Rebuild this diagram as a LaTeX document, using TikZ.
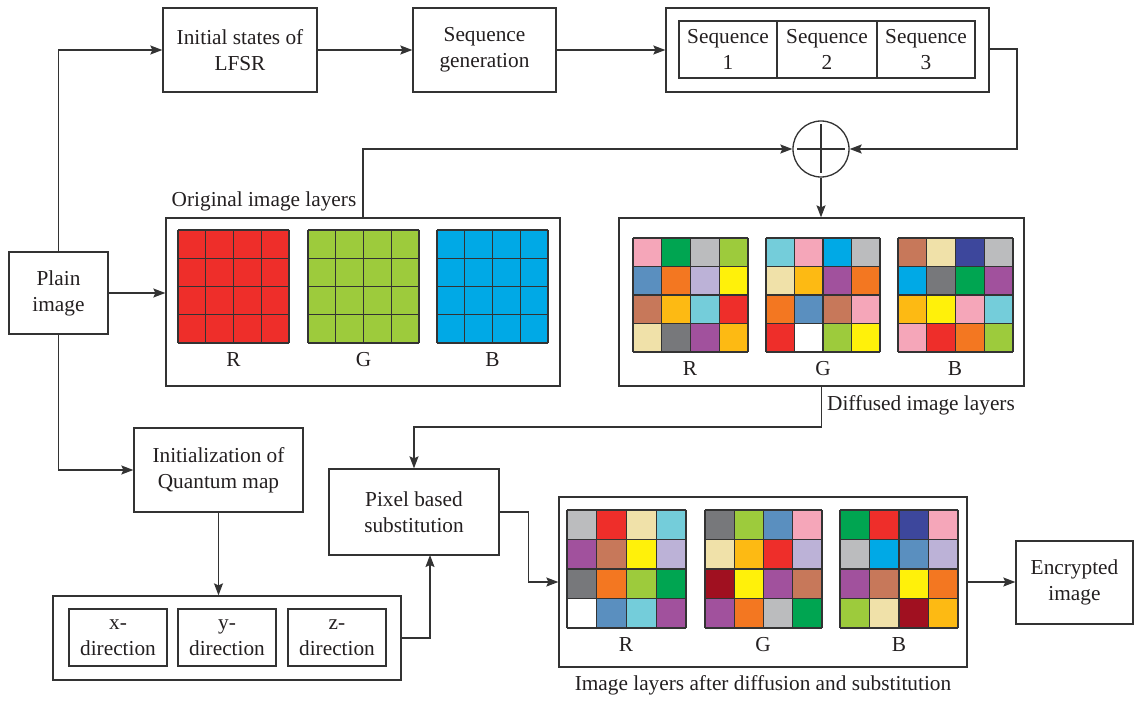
\documentclass[tikz,border=0pt]{standalone}
\usepackage{fontspec}
\setmainfont{Liberation Serif}
\newfontfamily\diagfont{Liberation Serif}
\usetikzlibrary{arrows.meta,calc}
\definecolor{ink}{HTML}{231F20}
\definecolor{ln}{HTML}{333333}
\definecolor{cpink}{HTML}{F5A6B9}
\definecolor{cdkgreen}{HTML}{00A551}
\definecolor{cgray}{HTML}{BBBCBE}
\definecolor{clgreen}{HTML}{9DCB3C}
\definecolor{csteel}{HTML}{5A8FBF}
\definecolor{corange}{HTML}{F37721}
\definecolor{clav}{HTML}{BCB2D7}
\definecolor{cyellow}{HTML}{FFF10A}
\definecolor{cbrown}{HTML}{C7785A}
\definecolor{cgold}{HTML}{FDBA13}
\definecolor{ccyan}{HTML}{74CDDA}
\definecolor{cred}{HTML}{EE2E2A}
\definecolor{cbeige}{HTML}{F0E1A9}
\definecolor{cdgray}{HTML}{77787B}
\definecolor{cpurple}{HTML}{A1519D}
\definecolor{cblue}{HTML}{00A9E6}
\definecolor{cnavy}{HTML}{3D479C}
\definecolor{cmaroon}{HTML}{A01020}
\newcommand\cgrid[5]{%
  \foreach \cc [count=\i from 0] in {#5} {%
    \pgfmathtruncatemacro\gcol{mod(\i,4)}%
    \pgfmathtruncatemacro\grow{int(\i/4)}%
    \fill[\cc] ({#1+\gcol*#3/4},{#2+\grow*#4/4}) rectangle ++({#3/4},{#4/4});
  }%
  \foreach \k in {0,...,4} {%
    \draw[gridline] ({#1+\k*#3/4},#2) -- ++(0,#4);
    \draw[gridline] (#1,{#2+\k*#4/4}) -- ++(#3,0);
  }%
}
\begin{document}
\begin{tikzpicture}[x=1pt,y=-1pt,
  every node/.style={font=\diagfont\fontsize{21.3}{26}\selectfont, text=ink},
  box/.style={draw=ln, line width=1.3pt, align=center, inner sep=0pt},
  gridline/.style={draw=ln, line width=1.2pt},
  conn/.style={draw=ln, line width=1.3pt},
  arr/.style={conn, -{Stealth[length=12pt,width=9pt,inset=2pt]}},
  lbl/.style={inner sep=0pt}]
\useasboundingbox (0,0) rectangle (1141,701);
% main boxes
\node[box, minimum width=99pt, minimum height=82pt] (plain) at (58.5,293) {Plain\\image};
\node[box, minimum width=154pt, minimum height=84pt] (lfsr) at (240,50) {Initial states of\\LFSR};
\node[box, minimum width=143pt, minimum height=84pt] (seqgen) at (484.5,50) {Sequence\\generation};
\node[box, minimum width=323pt, minimum height=84pt] (seqouter) at (827.5,50) {};
\node[box, minimum width=98pt, minimum height=57pt] (seq1) at (728,49.5) {Sequence\\1};
\node[box, minimum width=100pt, minimum height=57pt] (seq2) at (827,49.5) {Sequence\\2};
\node[box, minimum width=98pt, minimum height=57pt] (seq3) at (926,49.5) {Sequence\\3};
\node[draw=ln, line width=1.3pt, circle, minimum size=56pt, inner sep=0pt] (xor) at (821,149) {};
\draw[conn] (797,149) -- (845,149) (821,124) -- (821,173);
\node[box, minimum width=394pt, minimum height=168pt] (orig) at (363,302) {};
\node[lbl] (origlbl) at (264,201) {Original image layers};
\node[box, minimum width=405pt, minimum height=168pt] (diff) at (821.5,302) {};
\node[lbl] (difflbl) at (921,405) {Diffused image layers};
\node[box, minimum width=169pt, minimum height=84pt] (quantum) at (218.5,470) {Initialization of\\Quantum map};
\node[box, minimum width=170pt, minimum height=86pt] (pixel) at (414,512) {Pixel based\\substitution};
\node[box, minimum width=348pt, minimum height=84pt] (dirs) at (227,638) {};
\node[box, minimum width=98pt, minimum height=57pt] (dx) at (118,637.5) {x-\\direction};
\node[box, minimum width=98pt, minimum height=57pt] (dy) at (227,637.5) {y-\\direction};
\node[box, minimum width=98pt, minimum height=57pt] (dz) at (337,637.5) {z-\\direction};
\node[box, minimum width=408pt, minimum height=170pt] (subst) at (763,582) {};
\node[lbl] (substlbl) at (763,685) {Image layers after diffusion and substitution};
\node[box, minimum width=117pt, minimum height=83pt] (enc) at (1074.5,582.5) {Encrypted\\image};
% original grids
\cgrid{178}{230}{111}{113}{cred,cred,cred,cred,cred,cred,cred,cred,cred,cred,cred,cred,cred,cred,cred,cred}
\cgrid{308}{230}{111}{113}{clgreen,clgreen,clgreen,clgreen,clgreen,clgreen,clgreen,clgreen,clgreen,clgreen,clgreen,clgreen,clgreen,clgreen,clgreen,clgreen}
\cgrid{437}{230}{111}{113}{cblue,cblue,cblue,cblue,cblue,cblue,cblue,cblue,cblue,cblue,cblue,cblue,cblue,cblue,cblue,cblue}
\node[lbl] (oR) at (233.5,360) {R};
\node[lbl] (oG) at (363.5,360) {G};
\node[lbl] (oB) at (492.5,360) {B};
% diffused grids
\cgrid{633}{238}{115}{114}{cpink,cdkgreen,cgray,clgreen,csteel,corange,clav,cyellow,cbrown,cgold,ccyan,cred,cbeige,cdgray,cpurple,cgold}
\cgrid{766}{238}{114}{114}{ccyan,cpink,cblue,cgray,cbeige,cgold,cpurple,corange,corange,csteel,cbrown,cpink,cred,white,clgreen,cyellow}
\cgrid{898}{238}{115}{114}{cbrown,cbeige,cnavy,cgray,cblue,cdgray,cdkgreen,cpurple,cgold,cyellow,cpink,ccyan,cpink,cred,corange,clgreen}
\node[lbl] (dR) at (690,369) {R};
\node[lbl] (dG) at (823,369) {G};
\node[lbl] (dB) at (955,369) {B};
% substituted grids
\cgrid{567}{510}{119}{118}{cgray,cred,cbeige,ccyan,cpurple,cbrown,cyellow,clav,cdgray,corange,clgreen,cdkgreen,white,csteel,ccyan,cpurple}
\cgrid{705}{510}{117}{118}{cdgray,clgreen,csteel,cpink,cbeige,cgold,cred,clav,cmaroon,cyellow,cpurple,cbrown,cpurple,corange,cgray,cdkgreen}
\cgrid{840}{510}{118}{118}{cdkgreen,cred,cnavy,cpink,cgray,cblue,csteel,clav,cpurple,cbrown,cyellow,corange,clgreen,cbeige,cmaroon,cgold}
\node[lbl] (sR) at (626,645) {R};
\node[lbl] (sG) at (763,645) {G};
\node[lbl] (sB) at (899,645) {B};
% connectors
\coordinate (seqout) at (1017,49);
\coordinate (seqdown) at (1017,149);
\coordinate (origup) at (363,149);
\coordinate (diffdown) at (821.5,427);
\coordinate (pixin) at (414,427);
\coordinate (dirsr) at (430,638);
\coordinate (pixbot) at (430,555);
\coordinate (pixr) at (528.5,512);
\coordinate (pixd) at (528.5,582);
\draw[arr] (plain.north) |- (lfsr.west);
\draw[arr] (lfsr.east) -- (seqgen.west);
\draw[arr] (seqgen.east) -- (seqouter.west);
\draw[arr] (seqouter.east |- seqout) -- (seqout) -- (seqdown) -- (xor.east);
\draw[arr] (orig.north) -- (origup) -- (xor.west);
\draw[arr] (xor.south) -- (xor.south |- diff.north);
\draw[arr] (diff.south) -- (diffdown) -- (pixin) -- (pixel.north);
\draw[arr] (plain.east) -- (plain.east -| orig.west);
\draw[arr] (plain.south) |- (quantum.west);
\draw[arr] (quantum.south) -- (quantum.south |- dirs.north);
\draw[arr] (dirs.east) -- (dirsr) -- (pixbot);
\draw[arr] (pixel.east) -- (pixr) -- (pixd) -- (subst.west);
\draw[arr] (subst.east) -- (subst.east -| enc.west);
\end{tikzpicture}
\end{document}
